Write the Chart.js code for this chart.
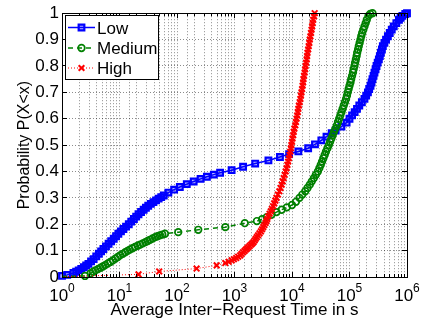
<!DOCTYPE html>
<html>
<head>
<meta charset="UTF-8">
<title>Average Inter-Request Time CDF</title>
<script src="https://cdn.jsdelivr.net/npm/chart.js@4.4.0/dist/chart.umd.min.js"></script>
<style>
  html, body { margin: 0; padding: 0; background: #fff; }
  #wrap { width: 422px; height: 323px; }
</style>
</head>
<body>
<div id="wrap"><canvas id="cdf" width="422" height="323"></canvas></div>
<script>
// values (x in seconds, y = P(X<x))
const lowX = [1.0, 1.23, 1.58, 1.76, 1.95, 2.16, 2.40, 2.63, 2.88, 3.20, 3.55, 3.94, 4.37, 4.79, 5.25, 5.82,
  6.46, 7.16, 7.94, 8.71, 9.55, 10.6, 11.7, 13.0, 14.5, 16.0, 17.8, 19.5, 21.4, 23.7, 26.3, 28.8, 31.6, 35.1,
  38.9, 43.2, 47.9, 53.1, 58.9, 70.8, 89.1, 112, 148, 195, 257, 331, 437, 562, 891, 1410, 2290, 3890, 6170,
  8910, 12900, 19100, 25100, 32400, 39800, 49000, 57500, 72400, 89100, 100000, 111000, 123000, 135000,
  148000, 164000, 182000, 195000, 209000, 220000, 232000, 242000, 251000, 262000, 272000, 284000, 295000,
  309000, 324000, 337000, 351000, 366000, 380000, 405000, 432000, 465000, 501000, 543000, 589000, 653000,
  724000, 776000, 832000, 933000, 1000000];
const lowY = [0.004, 0.008, 0.015, 0.02, 0.025, 0.031, 0.037, 0.0435, 0.05, 0.059, 0.068, 0.078, 0.088, 0.097,
  0.106, 0.116, 0.126, 0.1355, 0.145, 0.1545, 0.164, 0.173, 0.182, 0.191, 0.20, 0.21, 0.22, 0.229, 0.238,
  0.2465, 0.255, 0.2625, 0.27, 0.277, 0.284, 0.2905, 0.297, 0.303, 0.309, 0.32, 0.331, 0.341, 0.352, 0.362,
  0.372, 0.38, 0.388, 0.395, 0.405, 0.418, 0.43, 0.442, 0.455, 0.466, 0.476, 0.488, 0.503, 0.518, 0.532,
  0.545, 0.555, 0.57, 0.585, 0.60, 0.6125, 0.625, 0.6375, 0.65, 0.6625, 0.675, 0.6875, 0.70, 0.7125, 0.725,
  0.7375, 0.75, 0.7625, 0.775, 0.7875, 0.80, 0.8125, 0.825, 0.8375, 0.85, 0.8625, 0.875, 0.8875, 0.90,
  0.9125, 0.925, 0.9375, 0.95, 0.9625, 0.975, 0.9825, 0.99, 0.997, 1.0];

const mediumX = [1.0, 2.51, 3.16, 3.47, 3.80, 4.22, 4.68, 5.13, 5.62, 6.24, 6.92, 7.67, 8.51, 9.33, 10.2, 11.4,
  12.6, 13.8, 15.1, 16.8, 18.6, 20.7, 22.9, 25.4, 28.2, 30.9, 33.9, 37.6, 41.7, 45.7, 50.1, 55.6, 61.7, 105,
  234, 692, 1510, 2450, 3020, 3630, 4370, 5370, 6610, 8130, 10000, 11700, 13500, 15100, 17000, 18600, 20400,
  22100, 24000, 26000, 28200, 29900, 31600, 33300, 35100, 37000, 38900, 41200, 43700, 46000, 48400, 51000,
  53700, 56900, 60300, 63100, 66100, 69200, 72400, 75900, 79400, 83200, 87100, 90200, 93300, 96600, 100000,
  104000, 107000, 111000, 115000, 118000, 122000, 125000, 129000, 133000, 136000, 141000, 145000, 150000,
  155000, 160000, 166000, 174000, 182000, 191000, 200000, 214000, 229000, 251000];
const mediumY = [0.002, 0.004, 0.014, 0.02, 0.025, 0.03, 0.035, 0.04, 0.045, 0.051, 0.057, 0.063, 0.07, 0.076,
  0.082, 0.088, 0.094, 0.099, 0.104, 0.109, 0.114, 0.1185, 0.123, 0.1275, 0.132, 0.1365, 0.141, 0.146, 0.151,
  0.1545, 0.158, 0.161, 0.164, 0.17, 0.179, 0.189, 0.204, 0.212, 0.219, 0.227, 0.236, 0.246, 0.255, 0.264,
  0.273, 0.285, 0.30, 0.3125, 0.325, 0.3375, 0.35, 0.3625, 0.375, 0.3875, 0.40, 0.4125, 0.425, 0.4375, 0.45,
  0.4625, 0.475, 0.4875, 0.50, 0.5125, 0.525, 0.5375, 0.55, 0.5625, 0.575, 0.5875, 0.60, 0.6125, 0.625,
  0.6375, 0.65, 0.6625, 0.675, 0.6875, 0.70, 0.7125, 0.725, 0.7375, 0.75, 0.7625, 0.775, 0.7875, 0.80,
  0.8125, 0.825, 0.8375, 0.85, 0.8625, 0.875, 0.8875, 0.90, 0.9125, 0.925, 0.9375, 0.95, 0.9625, 0.975,
  0.99, 0.997, 1.0];

const highX = [1.0, 21.4, 49.0, 219, 490, 692, 794, 891, 977, 1070, 1160, 1260, 1330, 1410, 1500, 1580, 1660,
  1740, 1840, 1950, 2040, 2140, 2240, 2340, 2450, 2570, 2720, 2880, 3020, 3160, 3310, 3470, 3590, 3720, 3890,
  4070, 4270, 4470, 4680, 4900, 5130, 5370, 5690, 6030, 6310, 6610, 6890, 7160, 7460, 7760, 8040, 8320,
  8570, 8810, 9080, 9330, 9550, 9770, 10000, 10200, 10500, 10700, 11000, 11400, 11700, 12000, 12300, 12600,
  12900, 13200, 13600, 14000, 14300, 14600, 15000, 15300, 15600, 15800, 16200, 16600, 16900, 17200, 17600,
  18000, 18300, 18600, 19100, 19500, 20000, 20400, 20900, 21400, 21900, 22400, 22900, 23400, 24200, 24800];
const highY = [0.001, 0.01, 0.021, 0.032, 0.044, 0.053, 0.0575, 0.063, 0.0675, 0.072, 0.077, 0.082, 0.088,
  0.094, 0.099, 0.104, 0.1085, 0.113, 0.118, 0.123, 0.1275, 0.132, 0.1385, 0.145, 0.1515, 0.158, 0.1655,
  0.173, 0.181, 0.189, 0.197, 0.205, 0.2125, 0.22, 0.23, 0.24, 0.249, 0.258, 0.2685, 0.279, 0.2895, 0.30,
  0.3125, 0.325, 0.3375, 0.35, 0.3625, 0.375, 0.3875, 0.40, 0.4125, 0.425, 0.4375, 0.45, 0.4625, 0.475,
  0.4875, 0.50, 0.5125, 0.525, 0.5375, 0.55, 0.5625, 0.575, 0.5875, 0.60, 0.6125, 0.625, 0.6375, 0.65,
  0.6625, 0.675, 0.6875, 0.70, 0.7125, 0.725, 0.7375, 0.75, 0.7625, 0.775, 0.7875, 0.80, 0.8125, 0.825,
  0.8375, 0.85, 0.8625, 0.875, 0.8875, 0.90, 0.9125, 0.925, 0.9375, 0.95, 0.9625, 0.975, 0.9875, 1.0];

const seriesLabels = ['Low', 'Medium', 'High'];
const xTickValues = [1, 10, 100, 1000, 10000, 100000, 1000000];
const xTickExponents = ['0', '1', '2', '3', '4', '5', '6'];
const xTitle = 'Average Inter\u2212Request Time in s';
const yTitle = 'Probability P(X<x)';

const FONT = "'Liberation Sans', Arial, Helvetica, sans-serif";

function toPoints(xs, ys) {
  return xs.map((x, i) => ({ x: x, y: ys[i] }));
}

// marker for the legend samples
function drawMarker(ctx, style, x, y, r, fill) {
  ctx.beginPath();
  if (style === 'rect') {
    const s = r * Math.SQRT1_2;
    ctx.rect(x - s, y - s, 2 * s, 2 * s);
  } else if (style === 'circle') {
    ctx.arc(x, y, r, 0, Math.PI * 2);
  } else if (style === 'crossRot') {
    const s = r * Math.SQRT1_2;
    ctx.moveTo(x - s, y - s); ctx.lineTo(x + s, y + s);
    ctx.moveTo(x - s, y + s); ctx.lineTo(x + s, y - s);
  }
  if (fill) { ctx.fillStyle = fill; ctx.fill(); }
  ctx.stroke();
}

function isDecade(v) {
  const l = Math.log10(v);
  return Math.abs(l - Math.round(l)) < 1e-9;
}

function align(p) {
  return Math.round(p - 0.5) + 0.5;
}

const matlabAxes = {
  id: 'matlabAxes',
  afterDraw(chart) {
    const { ctx, chartArea: a, scales: { x, y } } = chart;
    ctx.save();
    ctx.setLineDash([]);
    ctx.strokeStyle = '#000';
    ctx.lineWidth = 1;

    // inward ticks on all four sides
    ctx.beginPath();
    x.ticks.forEach(t => {
      const px = align(x.getPixelForValue(t.value));
      const len = isDecade(t.value) ? 5 : 3;
      ctx.moveTo(px, a.bottom); ctx.lineTo(px, a.bottom - len);
      ctx.moveTo(px, a.top); ctx.lineTo(px, a.top + len);
    });
    y.ticks.forEach(t => {
      const py = align(y.getPixelForValue(t.value));
      ctx.moveTo(a.left, py); ctx.lineTo(a.left + 5, py);
      ctx.moveTo(a.right, py); ctx.lineTo(a.right - 5, py);
    });
    ctx.stroke();

    // box
    ctx.strokeRect(align(a.left), align(a.top), Math.round(a.right - a.left), Math.round(a.bottom - a.top));

    // x tick labels 10^k
    ctx.fillStyle = '#000';
    ctx.textAlign = 'left';
    ctx.textBaseline = 'alphabetic';
    xTickValues.forEach((v, k) => {
      const px = x.getPixelForValue(v);
      ctx.font = '17px ' + FONT;
      const wb = ctx.measureText('10').width;
      ctx.font = '12px ' + FONT;
      const we = ctx.measureText(xTickExponents[k]).width;
      const left = px - (wb + we) / 2;
      ctx.font = '17px ' + FONT;
      ctx.fillText('10', left, 301);
      ctx.font = '12px ' + FONT;
      ctx.fillText(xTickExponents[k], left + wb, 292);
    });

    // axis titles
    ctx.font = '17px ' + FONT;
    ctx.textAlign = 'center';
    ctx.fillText(xTitle, (a.left + a.right) / 2, 315);
    ctx.save();
    ctx.font = '16px ' + FONT;
    ctx.translate(28.5, (a.top + a.bottom) / 2);
    ctx.rotate(-Math.PI / 2);
    ctx.fillText(yTitle, 0, 0);
    ctx.restore();

    // legend box
    const bx = 65.5, by = 15.5, bw = 93, bh = 64;
    ctx.fillStyle = '#fff';
    ctx.fillRect(bx, by, bw, bh);
    ctx.strokeStyle = '#000';
    ctx.strokeRect(bx, by, bw, bh);
    const rows = [27.5, 48, 68];
    chart.data.datasets.forEach((ds, i) => {
      const cy = rows[i];
      ctx.strokeStyle = ds.borderColor;
      ctx.lineWidth = ds.borderWidth;
      ctx.setLineDash(ds.borderDash || []);
      ctx.beginPath();
      ctx.moveTo(68, cy); ctx.lineTo(95, cy);
      ctx.stroke();
      ctx.setLineDash([]);
      ctx.lineWidth = ds.pointBorderWidth;
      drawMarker(ctx, ds.pointStyle, 81.5, cy, ds.legendRadius, ds.legendFill);
      ctx.fillStyle = '#000';
      ctx.font = '17px ' + FONT;
      ctx.textAlign = 'left';
      ctx.fillText(ds.label, 97, cy + 6);
    });
    ctx.restore();
  }
};

const ctx = document.getElementById('cdf').getContext('2d');
new Chart(ctx, {
  type: 'line',
  data: {
    datasets: [{
      label: seriesLabels[0],
      data: toPoints(lowX, lowY),
      borderColor: '#0000ff',
      backgroundColor: 'rgba(0,0,0,0)',
      borderWidth: 1.5,
      pointStyle: 'rect',
      pointRadius: 4,
      legendRadius: 4,
      legendFill: 'rgba(0,0,255,0.3)',
      pointBorderWidth: 2.2,
      pointBorderColor: '#0000ff',
      pointBackgroundColor: 'rgba(0,0,255,0.3)',
      order: 3
    }, {
      label: seriesLabels[1],
      data: toPoints(mediumX, mediumY),
      borderColor: '#008000',
      backgroundColor: 'rgba(0,0,0,0)',
      borderWidth: 1.5,
      borderDash: [5, 4],
      pointStyle: 'circle',
      pointRadius: c => c.dataIndex === 0 ? 0 : 3.3,
      legendRadius: 3.3,
      pointBorderWidth: 1.7,
      pointBorderColor: '#008000',
      pointBackgroundColor: 'rgba(0,0,0,0)',
      order: 2
    }, {
      label: seriesLabels[2],
      data: toPoints(highX, highY),
      borderColor: '#ff0000',
      backgroundColor: 'rgba(0,0,0,0)',
      borderWidth: 1,
      borderDash: [1, 2],
      pointStyle: 'crossRot',
      pointRadius: c => c.dataIndex === 0 ? 0 : 4,
      legendRadius: 4,
      pointBorderWidth: 2,
      pointBorderColor: '#ff0000',
      order: 1
    }]
  },
  options: {
    responsive: false,
    animation: false,
    devicePixelRatio: 1,
    events: [],
    layout: { padding: { left: 0, right: 15, top: 12, bottom: 0 } },
    datasets: { line: { clip: false, tension: 0 } },
    plugins: {
      legend: { display: false },
      tooltip: { enabled: false }
    },
    scales: {
      x: {
        type: 'logarithmic',
        min: 1,
        max: 1000000,
        afterFit: s => { s.height = 46; },
        ticks: { display: false, autoSkip: false },
        grid: { color: 'rgba(0,0,0,0.45)', lineWidth: 1, drawTicks: false },
        border: { display: true, color: '#000', width: 1, dash: [1, 2] }
      },
      y: {
        min: 0,
        max: 1,
        afterFit: s => { s.width = 62; },
        ticks: {
          stepSize: 0.1,
          padding: 3,
          color: '#000',
          font: { family: FONT, size: 17 },
          callback: v => String(parseFloat(v.toFixed(1)))
        },
        grid: { color: 'rgba(0,0,0,0.45)', lineWidth: 1, drawTicks: false },
        border: { display: true, color: '#000', width: 1, dash: [1, 2] }
      }
    }
  },
  plugins: [matlabAxes]
});
</script>
</body>
</html>
